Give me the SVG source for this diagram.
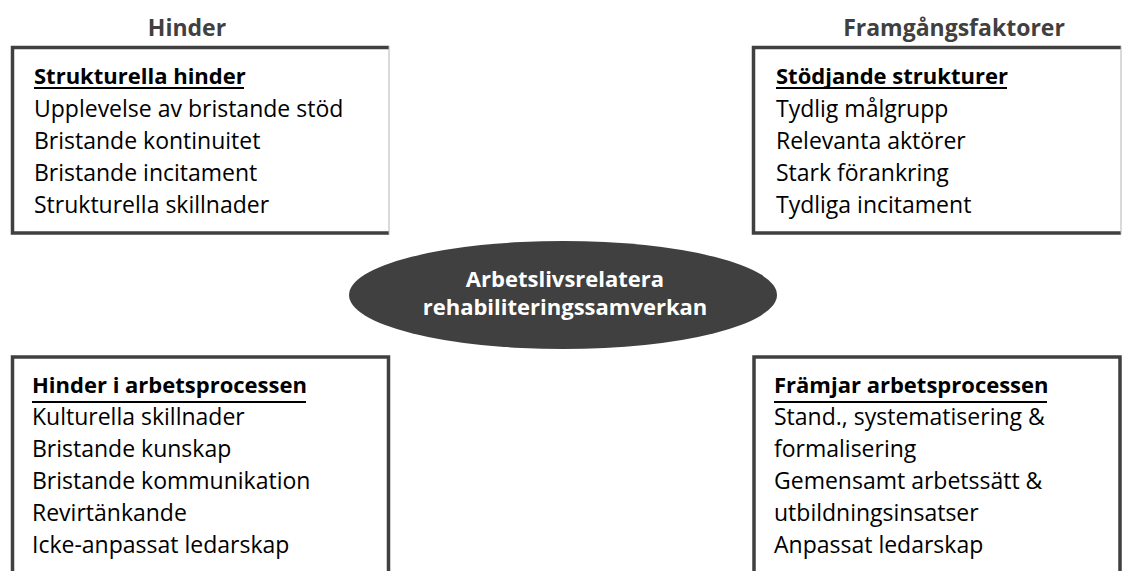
<svg xmlns="http://www.w3.org/2000/svg" width="1123" height="571" viewBox="0 0 1123 571">
<style>
.hd{font-family:"Open Sans","Noto Sans",sans-serif;font-weight:bold;font-size:23px;fill:#404040;text-anchor:middle}
.t{font-family:"Open Sans","Noto Sans",sans-serif;font-size:23px;fill:#000}
.b{font-weight:bold;font-size:22px}
.ul{stroke:#000;stroke-width:2}
.bd{fill:none;stroke:#404040;stroke-width:3.5}
.lt{stroke:#b5b5b5;stroke-width:1}
.et{font-family:"Open Sans","Noto Sans",sans-serif;font-weight:bold;font-size:22px;fill:#fff;text-anchor:middle}
</style>
<rect width="1123" height="571" fill="#fff"/>
<text class="hd" x="187" y="36">Hinder</text>
<text class="hd" x="954" y="36">Framgångsfaktorer</text>

<g id="structural-barriers">
<path class="bd" d="M389,47.5 H12.5 V233 H389"/>
<line class="lt" x1="389" y1="46" x2="389" y2="234.5"/>
<text class="t b" x="34" y="84">Strukturella hinder</text>
<line class="ul" x1="34" y1="88" x2="244" y2="88"/>
<text class="t" x="34" y="117">Upplevelse av bristande stöd</text>
<text class="t" x="34" y="149">Bristande kontinuitet</text>
<text class="t" x="34" y="181">Bristande incitament</text>
<text class="t" x="34" y="213">Strukturella skillnader</text>
</g>

<g id="supporting-structures">
<path class="bd" d="M1121,47.5 H753.5 V233 H1121"/>
<line class="lt" x1="1121" y1="46" x2="1121" y2="234.5"/>
<text class="t b" x="776" y="84">Stödjande strukturer</text>
<line class="ul" x1="776" y1="88" x2="1007" y2="88"/>
<text class="t" x="776" y="117">Tydlig målgrupp</text>
<text class="t" x="776" y="149">Relevanta aktörer</text>
<text class="t" x="776" y="181">Stark förankring</text>
<text class="t" x="776" y="213">Tydliga incitament</text>
</g>

<g id="center">
<ellipse cx="563" cy="295" rx="214" ry="54" fill="#404040"/>
<text class="et" x="565" y="287">Arbetslivsrelatera</text>
<text class="et" x="565" y="315">rehabiliteringssamverkan</text>
</g>

<g id="process-barriers">
<path class="bd" d="M12.5,575 V357 H388.5 V575"/>
<text class="t b" x="32" y="393">Hinder i arbetsprocessen</text>
<line class="ul" x1="32" y1="402" x2="306" y2="402"/>
<text class="t" x="32" y="425">Kulturella skillnader</text>
<text class="t" x="32" y="457">Bristande kunskap</text>
<text class="t" x="32" y="489">Bristande kommunikation</text>
<text class="t" x="32" y="521">Revirtänkande</text>
<text class="t" x="32" y="553">Icke-anpassat ledarskap</text>
</g>

<g id="process-promoters">
<path class="bd" d="M754,575 V357 H1120 V575"/>
<text class="t b" x="774" y="393">Främjar arbetsprocessen</text>
<line class="ul" x1="774" y1="402" x2="1047" y2="402"/>
<text class="t" x="774" y="425">Stand., systematisering &amp;</text>
<text class="t" x="774" y="457">formalisering</text>
<text class="t" x="774" y="489">Gemensamt arbetssätt &amp;</text>
<text class="t" x="774" y="521">utbildningsinsatser</text>
<text class="t" x="774" y="553">Anpassat ledarskap</text>
</g>

<g id="connectors"></g>
</svg>
